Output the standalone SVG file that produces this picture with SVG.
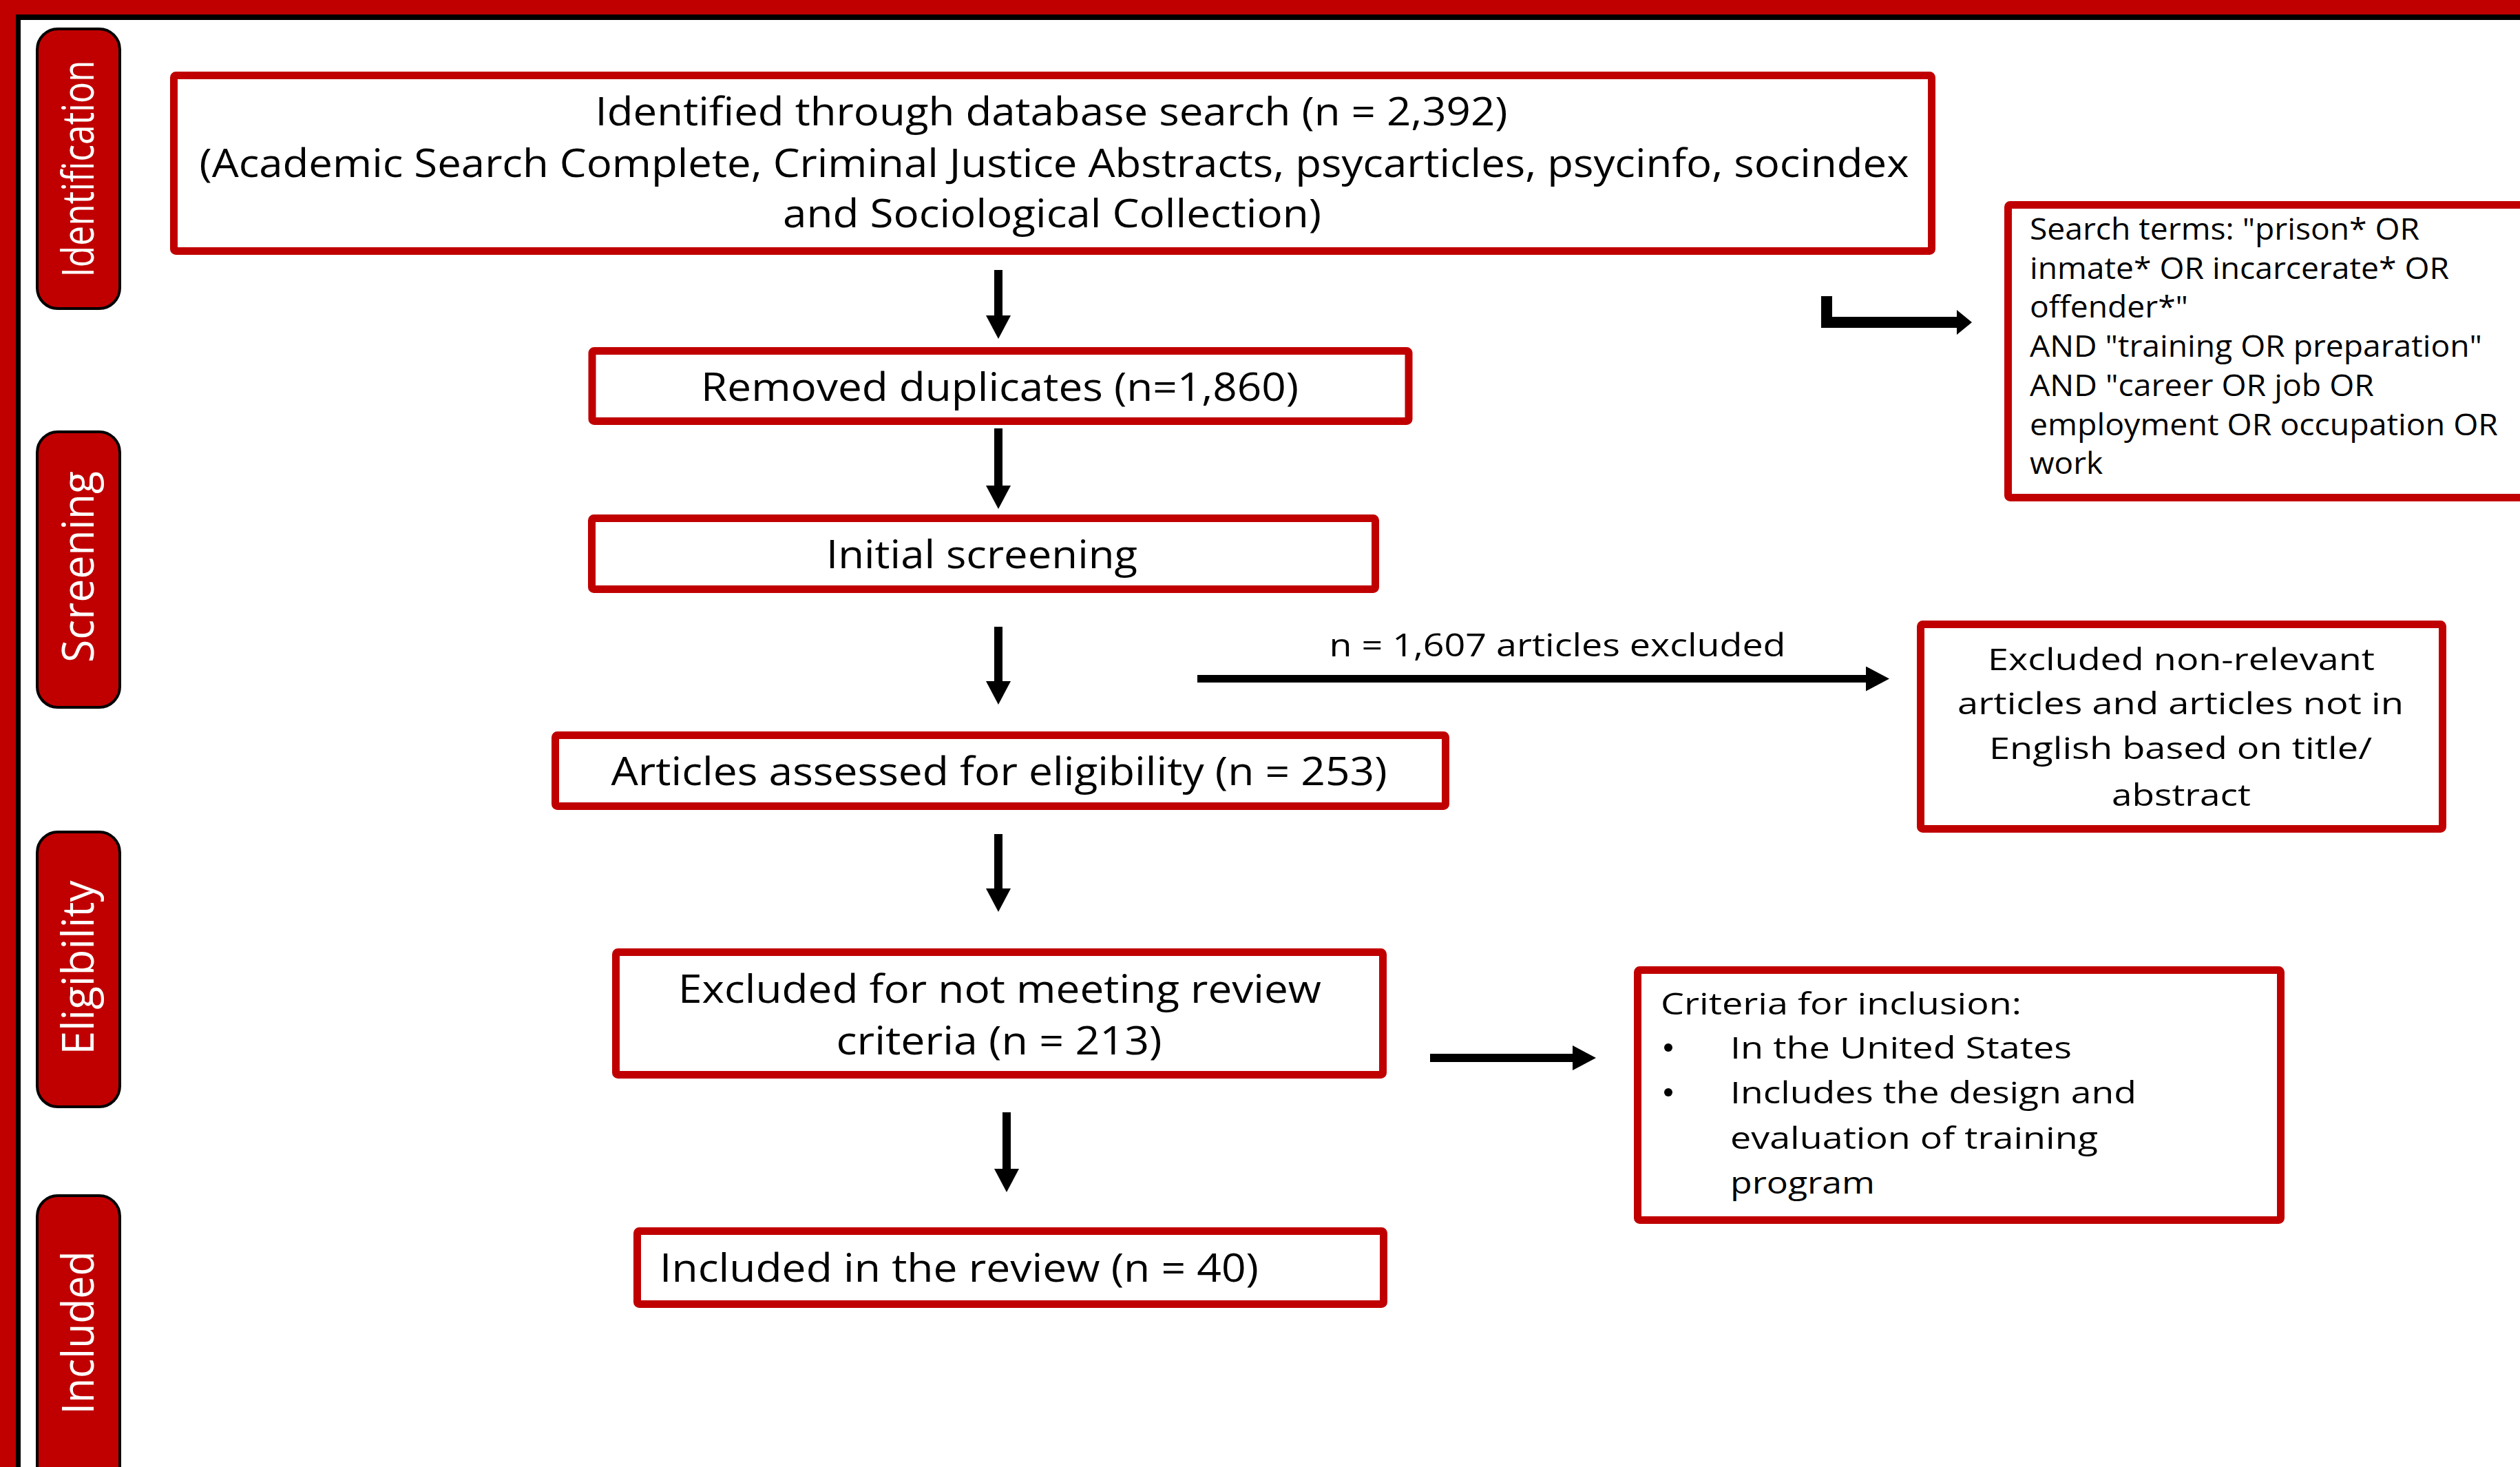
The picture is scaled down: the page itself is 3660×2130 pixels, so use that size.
<svg xmlns="http://www.w3.org/2000/svg" width="3660" height="2130" viewBox="0 0 3660 2130">
<style>
.box{fill:#fff;stroke:#C00000;stroke-width:11}
.pill{fill:#C00000;stroke:#000;stroke-width:4}
.pt{font-family:"Open Sans","Noto Sans",sans-serif;font-size:64px;fill:#fff;text-anchor:middle}
.mt{font-family:"Open Sans","Noto Sans",sans-serif;font-size:56px;fill:#000;text-anchor:middle}
.st{font-family:"Open Sans","Noto Sans",sans-serif;font-size:44px;fill:#000}
.sc{text-anchor:middle}
.ar{stroke:#000;stroke-width:12;fill:none}
</style>
<defs>
<marker id="ah" markerUnits="userSpaceOnUse" markerWidth="34" markerHeight="36" viewBox="0 0 34 36" refX="0" refY="18" orient="auto">
<path d="M0,0 L34,18 L0,36 z" fill="#000"/>
</marker>
</defs>
<rect width="3660" height="2130" fill="#fff"/>
<g id="frame">
<rect x="0" y="0" width="3660" height="21" fill="#C00000"/>
<rect x="0" y="0" width="23" height="2130" fill="#C00000"/>
<rect x="23" y="21" width="3637" height="8" fill="#000"/>
<rect x="23" y="21" width="7" height="2109" fill="#000"/>
</g>
<g id="stage-identification">
<rect class="pill" x="54" y="42" width="120" height="406" rx="30"/>
<text class="pt" transform="translate(136,245) rotate(-90)" textLength="315" lengthAdjust="spacingAndGlyphs">Identification</text>
</g>
<g id="stage-screening">
<rect class="pill" x="54" y="627" width="120" height="400" rx="30"/>
<text class="pt" transform="translate(136,823) rotate(-90)" textLength="278" lengthAdjust="spacingAndGlyphs">Screening</text>
</g>
<g id="stage-eligibility">
<rect class="pill" x="54" y="1208" width="120" height="399" rx="30"/>
<text class="pt" transform="translate(136,1405) rotate(-90)" textLength="253" lengthAdjust="spacingAndGlyphs">Eligibility</text>
</g>
<g id="stage-included">
<rect class="pill" x="54" y="1736" width="120" height="500" rx="30"/>
<text class="pt" transform="translate(136,1935) rotate(-90)" textLength="237" lengthAdjust="spacingAndGlyphs">Included</text>
</g>
<g id="node-identified">
<rect class="box" x="252.5" y="109.5" width="2553" height="255" rx="3"/>
<text class="mt" x="1527" y="182" textLength="1325" lengthAdjust="spacingAndGlyphs">Identified through database search (n = 2,392)</text>
<text class="mt" x="1531" y="257" textLength="2483" lengthAdjust="spacingAndGlyphs">(Academic Search Complete, Criminal Justice Abstracts, psycarticles, psycinfo, socindex</text>
<text class="mt" x="1528" y="330" textLength="782" lengthAdjust="spacingAndGlyphs">and Sociological Collection)</text>
</g>
<g id="node-duplicates">
<rect class="box" x="860" y="509.5" width="1186" height="102" rx="3"/>
<text class="mt" x="1452" y="582" textLength="868" lengthAdjust="spacingAndGlyphs">Removed duplicates (n=1,860)</text>
</g>
<g id="node-screening">
<rect class="box" x="859.5" y="752.5" width="1138" height="103" rx="3"/>
<text class="mt" x="1426" y="825" textLength="452" lengthAdjust="spacingAndGlyphs">Initial screening</text>
</g>
<g id="node-assessed">
<rect class="box" x="806.5" y="1067.5" width="1293" height="103" rx="3"/>
<text class="mt" x="1451" y="1140" textLength="1127" lengthAdjust="spacingAndGlyphs">Articles assessed for eligibility (n = 253)</text>
</g>
<g id="node-excluded-criteria">
<rect class="box" x="894.5" y="1382.5" width="1114" height="178" rx="3"/>
<text class="mt" x="1452" y="1456" textLength="934" lengthAdjust="spacingAndGlyphs">Excluded for not meeting review</text>
<text class="mt" x="1451" y="1531" textLength="473" lengthAdjust="spacingAndGlyphs">criteria (n = 213)</text>
</g>
<g id="node-included">
<rect class="box" x="925.5" y="1787.5" width="1084" height="106" rx="3"/>
<text class="mt" x="958" y="1861" style="text-anchor:start" textLength="870" lengthAdjust="spacingAndGlyphs">Included in the review (n = 40)</text>
</g>
<g id="node-search-terms">
<rect class="box" x="2916.5" y="297.5" width="800" height="425" rx="3"/>
<text class="st" x="2948" y="348" textLength="566" lengthAdjust="spacingAndGlyphs">Search terms: "prison* OR</text>
<text class="st" x="2948" y="405" textLength="609" lengthAdjust="spacingAndGlyphs">inmate* OR incarcerate* OR</text>
<text class="st" x="2948" y="461" textLength="230" lengthAdjust="spacingAndGlyphs">offender*"</text>
<text class="st" x="2948" y="518" textLength="657" lengthAdjust="spacingAndGlyphs">AND "training OR preparation"</text>
<text class="st" x="2948" y="575" textLength="500" lengthAdjust="spacingAndGlyphs">AND "career OR job OR</text>
<text class="st" x="2948" y="632" textLength="680" lengthAdjust="spacingAndGlyphs">employment OR occupation OR</text>
<text class="st" x="2948" y="688" textLength="106" lengthAdjust="spacingAndGlyphs">work</text>
</g>
<g id="node-excluded-title">
<rect class="box" x="2789.5" y="906.5" width="758" height="297" rx="3"/>
<text class="st sc" x="3168" y="973" textLength="562" lengthAdjust="spacingAndGlyphs">Excluded non-relevant</text>
<text class="st sc" x="3167" y="1037" textLength="648" lengthAdjust="spacingAndGlyphs">articles and articles not in</text>
<text class="st sc" x="3167" y="1102" textLength="556" lengthAdjust="spacingAndGlyphs">English based on title/</text>
<text class="st sc" x="3168" y="1170" textLength="202" lengthAdjust="spacingAndGlyphs">abstract</text>
</g>
<g id="node-criteria">
<rect class="box" x="2378.5" y="1408.5" width="934" height="363" rx="3"/>
<text class="st" x="2412" y="1473" textLength="524" lengthAdjust="spacingAndGlyphs">Criteria for inclusion:</text>
<circle cx="2423" cy="1521" r="6" fill="#000"/>
<text class="st" x="2513" y="1537" textLength="496" lengthAdjust="spacingAndGlyphs">In the United States</text>
<circle cx="2423" cy="1586" r="6" fill="#000"/>
<text class="st" x="2513" y="1602" textLength="590" lengthAdjust="spacingAndGlyphs">Includes the design and</text>
<text class="st" x="2513" y="1668" textLength="534" lengthAdjust="spacingAndGlyphs">evaluation of training</text>
<text class="st" x="2513" y="1733" textLength="210" lengthAdjust="spacingAndGlyphs">program</text>
</g>
<g id="connectors">
<line class="ar" x1="1450" y1="392" x2="1450" y2="458" marker-end="url(#ah)"/>
<line class="ar" x1="1450" y1="622" x2="1450" y2="705" marker-end="url(#ah)"/>
<line class="ar" x1="1450" y1="910" x2="1450" y2="989" marker-end="url(#ah)"/>
<line class="ar" x1="1450" y1="1211" x2="1450" y2="1290" marker-end="url(#ah)"/>
<line class="ar" x1="1462" y1="1615" x2="1462" y2="1697" marker-end="url(#ah)"/>
<line class="ar" x1="1739" y1="985.5" x2="2710" y2="985.5" style="stroke-width:11" marker-end="url(#ah)"/>
<line class="ar" x1="2077" y1="1536" x2="2284" y2="1536" marker-end="url(#ah)"/>
<path d="M2645,430 H2661 V460 H2842 V450 L2864,468 L2842,486 V476 H2645 Z" fill="#000"/>
<text class="st sc" x="2262" y="953" style="font-size:46px" textLength="663" lengthAdjust="spacingAndGlyphs">n = 1,607 articles excluded</text>
</g>
</svg>
